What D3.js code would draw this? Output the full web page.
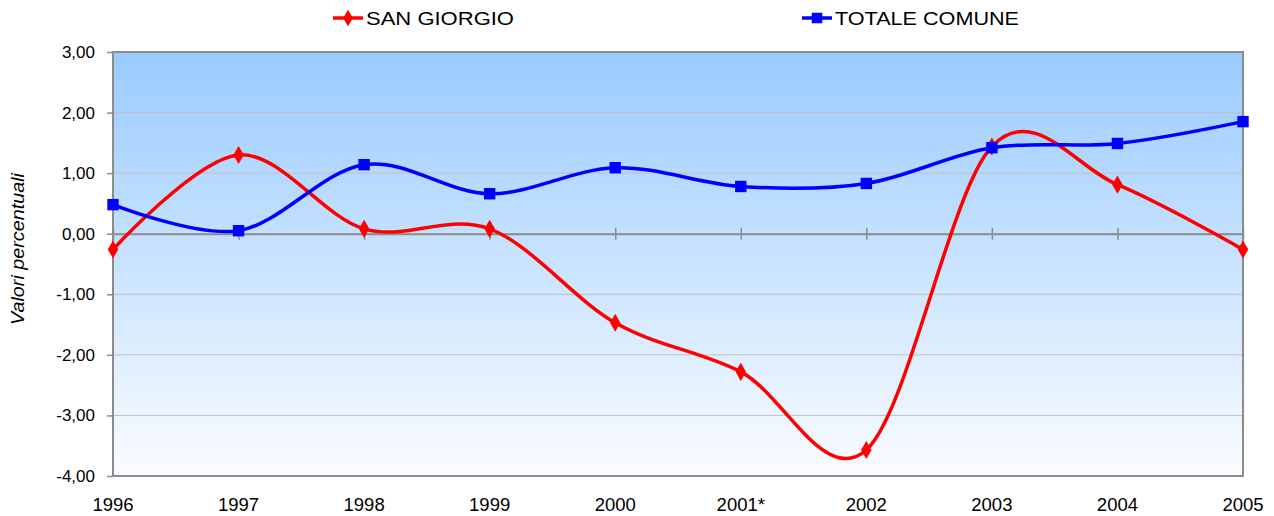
<!DOCTYPE html>
<html>
<head>
<meta charset="utf-8">
<script src="https://cdn.jsdelivr.net/npm/d3@7"></script>
<style>
  body { margin: 0; background: #fff; }
  text { font-family: "Liberation Sans", Arial, sans-serif; fill: #000; }
</style>
</head>
<body>
<div id="chart"></div>
<script>
// data
const years = ["1996", "1997", "1998", "1999", "2000", "2001*", "2002", "2003", "2004", "2005"];
const sanGiorgio = [-0.26, 1.30, 0.08, 0.08, -1.47, -2.28, -3.57, 1.44, 0.81, -0.26];
const totaleComune = [0.48, 0.05, 1.14, 0.66, 1.09, 0.78, 0.83, 1.42, 1.49, 1.85];
const yTicks = [3, 2, 1, 0, -1, -2, -3, -4];

const width = 1274, height = 516;
const margin = {top: 52, right: 31, bottom: 40, left: 113};
const w = width - margin.left - margin.right;
const h = height - margin.top - margin.bottom;

const svg = d3.select("#chart").append("svg")
  .attr("width", width)
  .attr("height", height);

// background gradient of the plot area
const defs = svg.append("defs");
const grad = defs.append("linearGradient")
  .attr("id", "bg").attr("x1", 0).attr("y1", 0).attr("x2", 0).attr("y2", 1);
grad.append("stop").attr("offset", "0%").attr("stop-color", "#99cbff");
grad.append("stop").attr("offset", "100%").attr("stop-color", "#fafcff");

const g = svg.append("g")
  .attr("transform", "translate(" + margin.left + "," + margin.top + ")");

const x = d3.scalePoint().domain(years).range([0, w]);
const y = d3.scaleLinear().domain([-4, 3]).range([h, 0]);

g.append("rect")
  .attr("width", w).attr("height", h)
  .attr("fill", "url(#bg)");

// horizontal gridlines
g.selectAll(".grid")
  .data(yTicks)
  .enter().append("line")
  .attr("x1", 0).attr("x2", w)
  .attr("y1", d => y(d)).attr("y2", d => y(d))
  .attr("stroke", "#c0c0c0").attr("stroke-width", 1);

// plot border
g.append("rect")
  .attr("width", w).attr("height", h)
  .attr("fill", "none").attr("stroke", "#8c8c8c").attr("stroke-width", 2);

// y axis
const yAxis = g.append("g")
  .call(d3.axisLeft(y).tickValues(yTicks).tickSize(6).tickPadding(12)
    .tickFormat(d => d3.format(".2f")(d).replace(".", ",").replace("\u2212", "-")));
yAxis.select(".domain").remove();
yAxis.selectAll("line").attr("stroke", "#8c8c8c").attr("stroke-width", 1.5);
yAxis.selectAll("text").style("font-size", "17px");

// category axis sits on the zero line
const xAxis = g.append("g")
  .attr("transform", "translate(0," + y(0) + ")")
  .call(d3.axisBottom(x).tickSize(0).tickFormat(""));
xAxis.select(".domain").attr("stroke", "#8c8c8c").attr("stroke-width", 2);
xAxis.selectAll(".tick").append("line")
  .attr("y1", -6).attr("y2", 6)
  .attr("stroke", "#8c8c8c").attr("stroke-width", 1.5);

// year labels below plot
g.selectAll(".xlab")
  .data(years)
  .enter().append("text")
  .attr("x", d => x(d))
  .attr("y", h + 35)
  .attr("text-anchor", "middle")
  .style("font-size", "18.5px")
  .text(d => d);

// y axis title
svg.append("text")
  .attr("transform", "translate(24,249) rotate(-90)")
  .attr("text-anchor", "middle")
  .style("font-size", "18px")
  .style("font-style", "italic")
  .attr("textLength", 152)
  .attr("lengthAdjust", "spacingAndGlyphs")
  .text("Valori percentuali");

const line = d3.line()
  .x((d, i) => x(years[i]))
  .y(d => y(d))
  .curve(d3.curveCardinal.tension(0));

const series = [
  {name: "SAN GIORGIO", values: sanGiorgio, color: "#ff0000", shape: d3.symbolDiamond, size: 95, textW: 148},
  {name: "TOTALE COMUNE", values: totaleComune, color: "#0000ff", shape: d3.symbolSquare, size: 130, textW: 184}
];

series.forEach(s => {
  g.append("path")
    .datum(s.values)
    .attr("d", line)
    .attr("fill", "none")
    .attr("stroke", s.color)
    .attr("stroke-width", 3.5);
  g.selectAll(null)
    .data(s.values)
    .enter().append("path")
    .attr("transform", (d, i) => "translate(" + x(years[i]) + "," + y(d) + ")")
    .attr("d", d3.symbol().type(s.shape).size(s.size))
    .attr("fill", s.color);
});

// legend
const legendX = [333, 802];
series.forEach((s, i) => {
  const lg = svg.append("g").attr("transform", "translate(" + legendX[i] + ",18)");
  lg.append("line").attr("x1", 0).attr("x2", 30)
    .attr("stroke", s.color).attr("stroke-width", 3.5);
  lg.append("path").attr("transform", "translate(15,0)")
    .attr("d", d3.symbol().type(s.shape).size(s.size * 0.85)).attr("fill", s.color);
  lg.append("text").attr("x", 33).attr("y", 7)
    .style("font-size", "19px")
    .attr("textLength", s.textW)
    .attr("lengthAdjust", "spacingAndGlyphs")
    .text(s.name);
});
</script>
</body>
</html>
